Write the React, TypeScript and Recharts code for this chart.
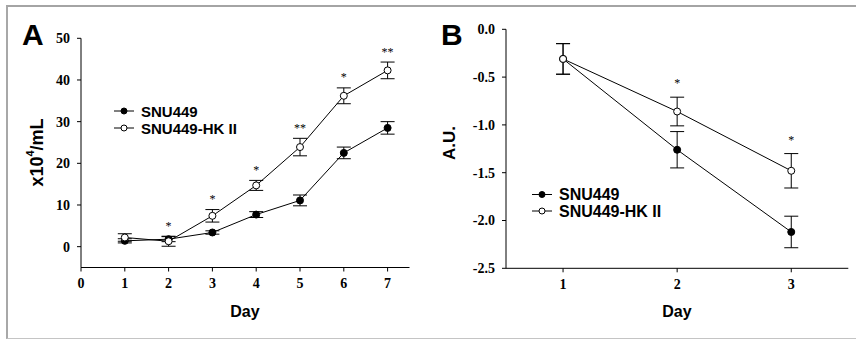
import React from "react";
import { LineChart, Line, XAxis, YAxis, ErrorBar, LabelList, Label } from "recharts";

// Panel A: cell count per day, Panel B: A.U. per day
const DAYS_A = [1, 2, 3, 4, 5, 6, 7];
const SNU_A = [1.4, 1.8, 3.4, 7.7, 11.1, 22.5, 28.5];
const SNU_A_ERR = [0.5, 0.6, 0.4, 0.7, 1.3, 1.4, 1.5];
const HK_A = [2.2, 1.3, 7.4, 14.7, 23.9, 36.2, 42.3];
const HK_A_ERR = [0.9, 1.2, 1.5, 1.2, 2.1, 1.9, 2.0];
const SIG_A = ["", "*", "*", "*", "**", "*", "**"];
const X_TICKS_A = [0, 1, 2, 3, 4, 5, 6, 7];
const Y_TICKS_A = [0, 10, 20, 30, 40, 50];

const DAYS_B = [1, 2, 3];
const SNU_B = [-0.31, -1.26, -2.12];
const SNU_B_ERR = [0.16, 0.19, 0.165];
const HK_B = [-0.31, -0.86, -1.48];
const HK_B_ERR = [0.16, 0.15, 0.18];
const SIG_B = ["", "*", "*"];
const X_TICKS_B = [1, 2, 3];
const Y_TICKS_B = [-2.5, -2, -1.5, -1, -0.5, 0];

const SANS = "'Liberation Sans', Arial, sans-serif";
const SERIF = "'Liberation Serif', 'Times New Roman', serif";

const rowsA = DAYS_A.map((d, i) => ({
  day: d,
  snu: SNU_A[i],
  snuErr: SNU_A_ERR[i],
  hk: HK_A[i],
  hkErr: HK_A_ERR[i],
  sigTop: HK_A[i] + HK_A_ERR[i],
  sig: SIG_A[i],
}));

const rowsB = DAYS_B.map((d, i) => ({
  day: d,
  snu: SNU_B[i],
  snuErr: SNU_B_ERR[i],
  hk: HK_B[i],
  hkErr: HK_B_ERR[i],
  sigTop: HK_B[i] + HK_B_ERR[i],
  sig: SIG_B[i],
}));

const tickStyle = { fill: "#000", fontSize: 14, fontFamily: SERIF, fontWeight: "bold" as const };
const axisLine = { stroke: "#000", strokeWidth: 1 };
const filledDot = { r: 3.5, fill: "#000", stroke: "#000", strokeWidth: 1 };
const openDot = { r: 3.5, fill: "#fff", stroke: "#000", strokeWidth: 1 };

// asterisks sit a fixed pixel distance above the top of the HK II error bar
const starContent = (off: number) => (props: any) => {
  const x = props.x ?? props.viewBox?.x;
  const y = props.y ?? props.viewBox?.y;
  if (!props.value || x == null || y == null) return null;
  return (
    <text x={x} y={y - off} textAnchor="middle" fontFamily={SERIF} fontSize={12} fill="#000">
      {props.value}
    </text>
  );
};

function LegendBox({ x, y, gap, size }: { x: number; y: number; gap: number; size: number }) {
  const rows = [
    { name: "SNU449", fill: "#000" },
    { name: "SNU449-HK II", fill: "#fff" },
  ];
  return (
    <g>
      {rows.map((r, i) => {
        const cy = y + i * gap;
        return (
          <g key={r.name}>
            <line x1={x} x2={x + 20} y1={cy} y2={cy} stroke="#000" strokeWidth={1} />
            <circle cx={x + 10} cy={cy} r={3} fill={r.fill} stroke="#000" strokeWidth={1} />
            <text x={x + 27} y={cy} dominantBaseline="central" fontFamily={SANS} fontWeight="bold" fontSize={size} fill="#000">
              {r.name}
            </text>
          </g>
        );
      })}
    </g>
  );
}

export default function App() {
  return (
    <div style={{ position: "fixed", left: 0, top: 0, width: 856, height: 339, background: "#fff", overflow: "hidden" }}>
      <div
        style={{
          position: "absolute",
          left: 6,
          top: 5,
          width: 860,
          height: 331,
          borderTop: "2px solid #a4a4a4",
          borderLeft: "2px solid #a8a8a8",
          borderBottom: "1px solid #c4c4c4",
        }}
      />

      <div style={{ position: "absolute", left: 0, top: 0 }}>
        <LineChart width={430} height={339} data={rowsA} margin={{ top: 38.3, right: 20.5, bottom: 41.5, left: 0 }}>
          <XAxis
            dataKey="day"
            type="number"
            domain={[0, 7.5]}
            ticks={X_TICKS_A}
            height={30}
            tick={tickStyle}
            tickSize={4}
            tickMargin={7}
            axisLine={axisLine}
            tickLine={axisLine}
          >
            <Label
              content={() => (
                <text x={245} y={316.5} textAnchor="middle" fontFamily={SANS} fontWeight="bold" fontSize={16} fill="#000">
                  Day
                </text>
              )}
            />
          </XAxis>
          <YAxis
            type="number"
            domain={[-5, 50]}
            ticks={Y_TICKS_A}
            width={81}
            tick={tickStyle}
            tickSize={4}
            tickMargin={7}
            axisLine={axisLine}
            tickLine={axisLine}
          >
            <Label
              content={() => (
                <text
                  x={37}
                  y={152.5}
                  transform="rotate(-90 37 152.5)"
                  textAnchor="middle"
                  dominantBaseline="central"
                  fontFamily={SANS}
                  fontWeight="bold"
                  fontSize={18}
                  fill="#000"
                >
                  x10
                  <tspan dy={-7} fontSize={11}>4</tspan>
                  <tspan dy={7}>/mL</tspan>
                </text>
              )}
            />
          </YAxis>
          <Line dataKey="snu" stroke="#000" strokeWidth={1} dot={filledDot} activeDot={false} isAnimationActive={false}>
            <ErrorBar dataKey="snuErr" direction="y" width={7} stroke="#000" strokeWidth={1} />
          </Line>
          <Line dataKey="hk" stroke="#000" strokeWidth={1} dot={openDot} activeDot={false} isAnimationActive={false}>
            <ErrorBar dataKey="hkErr" direction="y" width={7} stroke="#000" strokeWidth={1} />
          </Line>
          <Line dataKey="sigTop" stroke="none" dot={false} activeDot={false} isAnimationActive={false}>
            <LabelList dataKey="sig" content={starContent(6.4)} />
          </Line>
        </LineChart>
      </div>

      <div style={{ position: "absolute", left: 430, top: 0 }}>
        <LineChart width={426} height={339} data={rowsB} margin={{ top: 29.3, right: 7.7, bottom: 40.7, left: 0 }}>
          <XAxis
            dataKey="day"
            type="number"
            domain={[0.5, 3.5]}
            ticks={X_TICKS_B}
            height={30}
            tick={tickStyle}
            tickSize={4}
            tickMargin={7}
            axisLine={axisLine}
            tickLine={axisLine}
          >
            <Label
              content={() => (
                <text x={247} y={316.5} textAnchor="middle" fontFamily={SANS} fontWeight="bold" fontSize={16} fill="#000">
                  Day
                </text>
              )}
            />
          </XAxis>
          <YAxis
            type="number"
            domain={[-2.5, 0]}
            ticks={Y_TICKS_B}
            tickFormatter={(v: number) => v.toFixed(1)}
            width={76}
            tick={tickStyle}
            tickSize={4}
            tickMargin={7}
            axisLine={axisLine}
            tickLine={axisLine}
          >
            <Label
              content={() => (
                <text
                  x={19}
                  y={143}
                  transform="rotate(-90 19 143)"
                  textAnchor="middle"
                  dominantBaseline="central"
                  fontFamily={SANS}
                  fontWeight="bold"
                  fontSize={17}
                  fill="#000"
                >
                  A.U.
                </text>
              )}
            />
          </YAxis>
          <Line dataKey="snu" stroke="#000" strokeWidth={1} dot={filledDot} activeDot={false} isAnimationActive={false}>
            <ErrorBar dataKey="snuErr" direction="y" width={7} stroke="#000" strokeWidth={1} />
          </Line>
          <Line dataKey="hk" stroke="#000" strokeWidth={1} dot={openDot} activeDot={false} isAnimationActive={false}>
            <ErrorBar dataKey="hkErr" direction="y" width={7} stroke="#000" strokeWidth={1} />
          </Line>
          <Line dataKey="sigTop" stroke="none" dot={false} activeDot={false} isAnimationActive={false}>
            <LabelList dataKey="sig" content={starContent(10)} />
          </Line>
        </LineChart>
      </div>

      <svg width={856} height={339} style={{ position: "absolute", left: 0, top: 0, pointerEvents: "none" }}>
        <text x={22} y={44.5} fontFamily={SANS} fontWeight="bold" fontSize={30} fill="#000">A</text>
        <text x={441} y={44.5} fontFamily={SANS} fontWeight="bold" fontSize={30} fill="#000">B</text>
        <LegendBox x={114} y={111} gap={17} size={15} />
        <LegendBox x={532} y={194.5} gap={16.5} size={16} />
      </svg>
    </div>
  );
}
